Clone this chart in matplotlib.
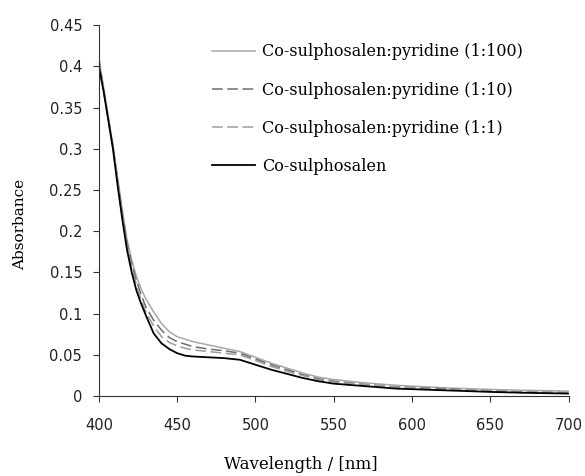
import matplotlib.pyplot as plt

plt.rcParams["font.family"] = ["DejaVu Serif"]

# wavelength grid (nm)
wl = [400, 403, 406, 409, 412, 415, 418, 421, 424, 427, 430, 435, 440, 445, 450,
      455, 460, 470, 480, 490, 500, 510, 520, 530, 540, 550, 570, 590, 620, 650,
      670, 700]

# absorbance
a_100 = [0.41, 0.375, 0.34, 0.305, 0.265, 0.225, 0.19, 0.165, 0.145, 0.13, 0.118,
         0.102, 0.088, 0.078, 0.072, 0.069, 0.066, 0.062, 0.058, 0.054, 0.047,
         0.040, 0.034, 0.028, 0.023, 0.020, 0.016, 0.013, 0.010, 0.008, 0.007, 0.006]
a_10 = [0.41, 0.372, 0.337, 0.302, 0.262, 0.222, 0.185, 0.16, 0.14, 0.123, 0.108,
        0.092, 0.080, 0.071, 0.066, 0.063, 0.060, 0.057, 0.055, 0.052, 0.045,
        0.038, 0.032, 0.026, 0.021, 0.018, 0.014, 0.011, 0.009, 0.006, 0.005, 0.004]
a_1 = [0.405, 0.37, 0.335, 0.30, 0.26, 0.22, 0.182, 0.155, 0.135, 0.117, 0.102,
       0.085, 0.072, 0.065, 0.061, 0.058, 0.056, 0.054, 0.052, 0.050, 0.043,
       0.036, 0.030, 0.025, 0.020, 0.017, 0.014, 0.011, 0.008, 0.007, 0.005, 0.004]
a_0 = [0.40, 0.37, 0.335, 0.30, 0.255, 0.214, 0.177, 0.15, 0.128, 0.112, 0.098,
       0.076, 0.064, 0.057, 0.052, 0.049, 0.048, 0.047, 0.046, 0.044, 0.038,
       0.032, 0.027, 0.022, 0.018, 0.015, 0.012, 0.009, 0.007, 0.005, 0.004, 0.003]

labels = ["Co-sulphosalen:pyridine (1:100)", "Co-sulphosalen:pyridine (1:10)",
          "Co-sulphosalen:pyridine (1:1)", "Co-sulphosalen"]

fig = plt.figure(figsize=(5.85, 4.76), dpi=100)
ax = fig.add_axes([0.169, 0.168, 0.803, 0.779])

ax.plot(wl, a_100, color="#a8a8a8", lw=1.1, label=labels[0])
ax.plot(wl, a_10, color="#6e6e6e", lw=1.1, ls=(0, (7, 3)), label=labels[1])
ax.plot(wl, a_1, color="#9c9c9c", lw=1.1, ls=(0, (7, 3)), label=labels[2])
ax.plot(wl, a_0, color="black", lw=1.3, label=labels[3])

ax.set_xlim(400, 700)
ax.set_ylim(0, 0.45)
ax.set_xticks([400, 450, 500, 550, 600, 650, 700])
ax.set_yticks([0, 0.05, 0.1, 0.15, 0.2, 0.25, 0.3, 0.35, 0.4, 0.45])
ax.set_yticklabels(["0", "0.05", "0.1", "0.15", "0.2", "0.25", "0.3", "0.35", "0.4", "0.45"])
ax.spines["top"].set_visible(False)
ax.spines["right"].set_visible(False)
ax.spines["left"].set_color("#333333")
ax.spines["bottom"].set_color("#333333")
ax.tick_params(direction="out", length=4, color="#333333")
ax.tick_params(axis="x", pad=12)
ax.tick_params(axis="y", pad=8)
for lab in ax.get_xticklabels() + ax.get_yticklabels():
    lab.set_family("DejaVu Sans")
    lab.set_fontsize(10.5)
    lab.set_color("#222222")

ax.set_xlabel("Wavelength / [nm]", fontsize=12)
ax.xaxis.set_label_coords(0.43, -0.162)
ax.set_ylabel("Absorbance", fontsize=11)
ax.yaxis.set_label_coords(-0.152, 0.464)

ax.legend(frameon=False, loc="upper left", bbox_to_anchor=(0.21, 0.99),
          fontsize=11.5, handlelength=2.7, handletextpad=0.45, labelspacing=1.33)

fig.savefig("out.png", dpi=100)
